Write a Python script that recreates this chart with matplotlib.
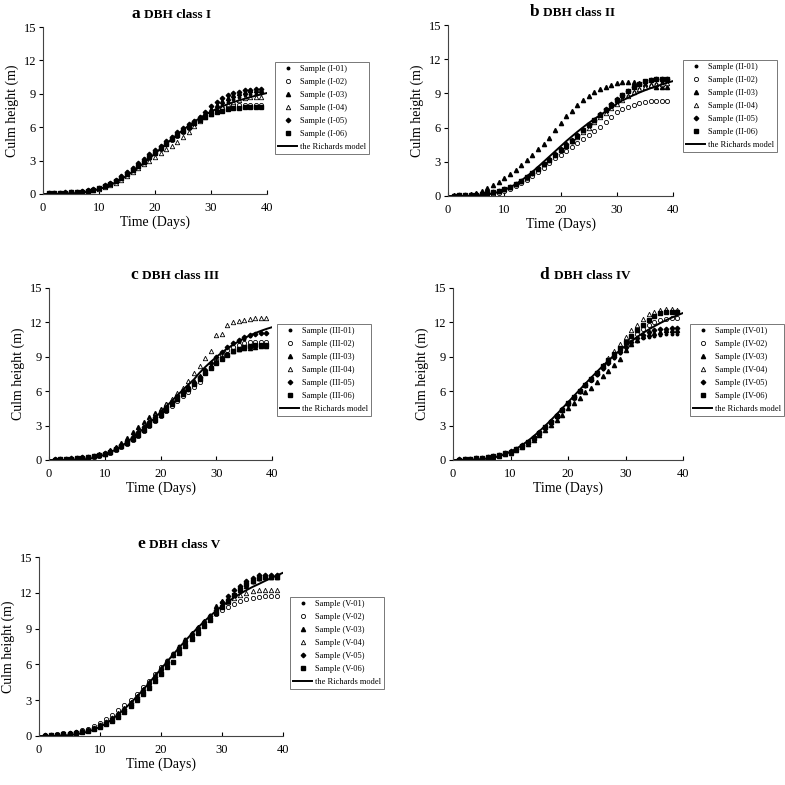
import numpy as np
import matplotlib
matplotlib.use('Agg')
import matplotlib.pyplot as plt
from matplotlib.offsetbox import TextArea, HPacker, AnchoredOffsetbox

plt.rcParams['font.family'] = ['Liberation Serif', 'DejaVu Serif']

# days of measurement and days for the fitted curve
days = list(range(1, 40))
model_days = list(range(0, 41))

# ---- panel a : DBH class I ----
a_s1 = [0.05,0.07,0.1,0.12,0.15,0.18,0.22,0.28,0.38,0.52,0.7,0.92,1.18,1.5,1.85,2.2,2.6,3.0,3.4,3.8,4.2,4.6,5.0,5.4,5.75,6.1,6.45,6.8,7.1,
        7.4,7.7,8.0,8.3,8.5,8.7,8.85,8.95,9.0,9.05]
a_s2 = [0.04,0.06,0.08,0.1,0.13,0.16,0.2,0.26,0.35,0.48,0.65,0.86,1.1,1.4,1.72,2.08,2.45,2.85,3.25,3.65,4.05,4.45,4.85,5.25,5.6,5.95,6.3,6.65,6.95,
        7.25,7.5,7.7,7.85,7.95,8.0,8.0,8.0,8.0,8.0]
a_s3 = [0.05,0.08,0.1,0.13,0.16,0.2,0.25,0.32,0.42,0.55,0.75,0.98,1.25,1.58,1.95,2.3,2.7,3.1,3.5,3.9,4.3,4.7,5.1,5.5,5.85,6.2,6.55,6.9,7.25,
        7.6,8.0,8.35,8.65,8.9,9.1,9.2,9.3,9.3,9.3]
a_s4 = [0.03,0.05,0.07,0.09,0.12,0.15,0.18,0.24,0.32,0.44,0.6,0.8,1.02,1.3,1.6,1.95,2.3,2.65,3.0,3.35,3.65,4.0,4.35,4.7,5.1,5.6,6.1,6.55,6.9,
        7.2,7.5,7.8,8.05,8.25,8.45,8.6,8.7,8.7,8.75]
a_s5 = [0.06,0.08,0.11,0.14,0.17,0.21,0.26,0.33,0.44,0.58,0.78,1.0,1.28,1.6,1.98,2.35,2.75,3.15,3.55,3.95,4.35,4.75,5.15,5.55,5.9,6.25,6.6,6.95,7.35,
        7.9,8.3,8.6,8.85,9.05,9.2,9.3,9.35,9.4,9.4]
a_s6 = [0.05,0.07,0.09,0.12,0.15,0.18,0.22,0.28,0.38,0.5,0.68,0.9,1.15,1.45,1.78,2.12,2.5,2.9,3.3,3.7,4.1,4.5,4.9,5.3,5.65,6.0,6.35,6.65,6.95,
        7.2,7.4,7.5,7.6,7.7,7.75,7.8,7.8,7.8,7.8]
a_model = [0.0,0.0,0.0,0.01,0.02,0.04,0.08,0.13,0.2,0.3,0.43,0.6,0.8,1.05,1.33,1.65,2.0,2.38,2.78,3.2,3.63,4.07,4.5,4.93,5.35,5.75,6.13,6.49,6.82,7.12,
           7.4,7.65,7.87,8.07,8.25,8.41,8.55,8.7,8.83,8.95,9.07]

# ---- panel b : DBH class II ----
b_s1 = [0.03,0.05,0.07,0.09,0.12,0.15,0.2,0.28,0.4,0.55,0.75,1.0,1.28,1.6,1.95,2.35,2.75,3.15,3.55,3.95,4.35,4.75,5.15,5.6,6.05,6.5,6.95,7.35,7.75,
        8.15,8.5,8.8,9.1,9.35,9.55,9.7,9.8,9.9,10.0]
b_s2 = [0.02,0.04,0.06,0.08,0.1,0.12,0.15,0.2,0.3,0.45,0.65,0.85,1.1,1.4,1.75,2.1,2.5,2.9,3.3,3.6,3.95,4.3,4.65,5.0,5.35,5.7,6.05,6.5,6.95,
        7.35,7.6,7.8,8.0,8.15,8.25,8.3,8.35,8.35,8.35]
b_s3 = [0.05,0.07,0.1,0.15,0.25,0.45,0.7,0.95,1.25,1.55,1.9,2.3,2.7,3.15,3.6,4.1,4.6,5.1,5.8,6.4,7.0,7.5,8.0,8.4,8.8,9.1,9.4,9.6,9.75,
        9.9,10.0,10.0,10.0,9.9,9.8,9.7,9.6,9.6,9.55]
b_s4 = [0.03,0.05,0.07,0.09,0.12,0.16,0.22,0.3,0.42,0.58,0.78,1.02,1.3,1.62,1.98,2.38,2.8,3.2,3.6,4.0,4.4,4.8,5.2,5.6,6.0,6.45,6.9,7.3,7.7,
        8.1,8.45,8.8,9.1,9.35,9.55,9.7,9.8,9.85,9.9]
b_s5 = [0.04,0.06,0.08,0.1,0.14,0.18,0.25,0.34,0.46,0.62,0.82,1.06,1.34,1.66,2.02,2.42,2.84,3.26,3.68,4.1,4.52,4.94,5.36,5.8,6.25,6.7,7.15,7.6,8.05,
        8.5,8.9,9.25,9.55,9.8,10.0,10.15,10.25,10.3,10.3]
b_s6 = [0.03,0.05,0.07,0.1,0.13,0.17,0.23,0.32,0.44,0.6,0.8,1.04,1.32,1.64,2.0,2.4,2.8,3.2,3.6,4.0,4.4,4.85,5.3,5.75,6.2,6.65,7.1,7.55,8.0,
        8.45,8.85,9.2,9.55,9.85,10.1,10.2,10.3,10.3,10.3]
b_model = [0.0,0.0,0.0,0.0,0.01,0.03,0.07,0.13,0.22,0.35,0.52,0.75,1.02,1.35,1.72,2.12,2.55,3.0,3.45,3.9,4.35,4.8,5.22,5.63,6.02,6.4,6.75,7.08,7.4,7.7,
           8.1,8.38,8.62,8.85,9.07,9.27,9.45,9.62,9.78,9.94,10.08]

# ---- panel c : DBH class III ----
c_s1 = [0.05,0.07,0.1,0.13,0.16,0.2,0.25,0.32,0.42,0.55,0.72,0.95,1.22,1.55,1.92,2.32,2.75,3.2,3.65,4.1,4.55,5.0,5.45,5.9,6.35,6.8,7.25,7.7,8.15,
        8.6,9.05,9.5,9.9,10.25,10.55,10.8,10.95,11.05,11.1]
c_s2 = [0.04,0.06,0.08,0.11,0.14,0.17,0.21,0.27,0.36,0.48,0.64,0.85,1.1,1.4,1.75,2.12,2.52,2.95,3.4,3.85,4.3,4.72,5.15,5.55,5.95,6.35,6.8,7.55,8.1,
        8.7,9.2,9.55,9.85,10.05,10.2,10.3,10.3,10.3,10.3]
c_s3 = [0.05,0.07,0.1,0.13,0.17,0.22,0.28,0.36,0.48,0.63,0.85,1.12,1.45,1.95,2.45,2.9,3.35,3.75,4.1,4.45,4.85,5.25,5.65,6.05,6.45,6.85,7.3,7.75,8.2,
        8.6,8.95,9.25,9.5,9.65,9.75,9.8,9.85,9.9,9.9]
c_s4 = [0.04,0.06,0.09,0.12,0.15,0.19,0.24,0.31,0.41,0.54,0.72,0.95,1.22,1.6,2.05,2.55,3.05,3.5,3.95,4.4,4.85,5.3,5.8,6.3,6.9,7.6,8.2,8.9,9.5,
        10.9,11.0,11.75,12.0,12.15,12.25,12.3,12.35,12.35,12.35]
c_s5 = [0.05,0.08,0.11,0.14,0.18,0.22,0.28,0.36,0.47,0.6,0.78,1.02,1.3,1.65,2.02,2.42,2.85,3.3,3.75,4.2,4.65,5.1,5.55,6.0,6.2,6.7,7.25,7.85,8.45,
        9.0,9.45,9.85,10.2,10.5,10.75,10.9,11.0,11.05,11.1]
c_s6 = [0.04,0.06,0.09,0.12,0.15,0.19,0.24,0.31,0.41,0.54,0.7,0.92,1.18,1.5,1.85,2.22,2.62,3.05,3.5,3.95,4.4,4.85,5.3,5.75,6.2,6.65,7.1,7.55,8.0,
        8.45,8.85,9.2,9.5,9.7,9.85,9.95,10.0,10.0,10.0]
c_model = [0.0,0.0,0.0,0.0,0.0,0.02,0.05,0.1,0.18,0.3,0.47,0.68,0.93,1.22,1.56,1.93,2.33,2.76,3.21,3.68,4.16,4.65,5.14,5.63,6.11,6.58,7.03,7.6,8.1,8.55,
           8.98,9.37,9.73,10.05,10.35,10.62,10.86,11.07,11.26,11.43,11.58]

# ---- panel d : DBH class IV ----
d_s1 = [0.05,0.08,0.12,0.16,0.21,0.27,0.35,0.45,0.58,0.75,0.97,1.25,1.58,1.97,2.4,2.87,3.37,3.88,4.4,4.93,5.45,5.95,6.45,6.95,7.45,7.95,8.45,8.9,9.35,
        9.75,10.1,10.4,10.6,10.75,10.85,10.9,10.95,11.0,11.0]
d_s2 = [0.04,0.07,0.11,0.15,0.2,0.26,0.34,0.44,0.57,0.74,0.96,1.23,1.55,1.93,2.35,2.82,3.32,3.84,4.37,4.91,5.45,5.98,6.5,7.02,7.55,8.08,8.6,9.1,9.6,
        10.1,10.55,11.0,11.4,11.75,12.0,12.2,12.3,12.35,12.4]
d_s3 = [0.03,0.06,0.09,0.13,0.17,0.22,0.29,0.38,0.5,0.65,0.85,1.1,1.4,1.75,2.15,2.6,3.05,3.45,3.95,4.5,5.0,5.45,5.9,6.3,6.8,7.3,7.8,8.3,8.8,
        9.6,10.1,10.5,10.8,11.0,11.1,11.2,11.3,11.3,11.3]
d_s4 = [0.04,0.07,0.11,0.15,0.2,0.26,0.34,0.44,0.57,0.74,0.96,1.23,1.56,1.95,2.38,2.85,3.35,3.87,4.4,4.95,5.5,6.05,6.6,7.15,7.7,8.3,8.9,9.5,10.1,
        10.7,11.3,11.8,12.3,12.7,12.95,13.1,13.15,13.15,13.1]
d_s5 = [0.05,0.08,0.12,0.16,0.21,0.27,0.35,0.46,0.6,0.77,0.99,1.27,1.6,1.99,2.42,2.9,3.4,3.92,4.45,4.98,5.5,6.02,6.52,7.02,7.52,8.02,8.5,8.97,9.42,
        9.85,10.25,10.6,10.9,11.15,11.3,11.4,11.45,11.5,11.5]
d_s6 = [0.04,0.07,0.11,0.15,0.2,0.26,0.34,0.44,0.57,0.74,0.96,1.23,1.55,1.94,2.37,2.84,3.34,3.86,4.39,4.93,5.47,6.01,6.55,7.09,7.63,8.17,8.7,9.22,9.73,
        10.25,10.8,11.3,11.8,12.2,12.6,12.85,12.95,12.95,12.95]
d_model = [0.0,0.0,0.01,0.02,0.04,0.07,0.12,0.2,0.32,0.5,0.72,0.98,1.3,1.66,2.06,2.5,2.97,3.46,3.97,4.5,5.03,5.57,6.11,6.64,7.17,7.68,8.18,8.66,9.12,9.56,
           9.97,10.36,10.72,11.06,11.37,11.66,11.93,12.18,12.41,12.62,12.82]

# ---- panel e : DBH class V ----
e_s1 = [0.05,0.08,0.13,0.18,0.24,0.32,0.42,0.55,0.72,0.94,1.22,1.55,1.95,2.4,2.9,3.45,4.0,4.55,5.15,5.75,6.35,6.95,7.55,8.1,8.65,9.15,9.65,10.1,10.55,
        11.0,11.45,11.85,12.25,12.6,12.9,13.15,13.3,13.4,13.45]
e_s2 = [0.06,0.1,0.15,0.21,0.28,0.37,0.48,0.62,0.8,1.05,1.4,1.8,2.2,2.6,3.0,3.55,4.1,4.65,5.2,5.75,6.3,6.85,7.4,7.95,8.5,9.0,9.45,9.85,10.2,
        10.55,10.85,11.1,11.3,11.45,11.55,11.65,11.7,11.7,11.7]
e_s3 = [0.04,0.07,0.11,0.16,0.22,0.3,0.4,0.52,0.68,0.88,1.14,1.46,1.84,2.28,2.76,3.28,3.82,4.38,4.96,5.56,6.16,6.76,7.36,7.94,8.5,9.04,9.56,10.06,10.9,
        11.35,11.6,11.85,12.2,12.6,12.95,13.2,13.3,13.35,13.35]
e_s4 = [0.05,0.08,0.12,0.17,0.23,0.31,0.41,0.54,0.7,0.92,1.2,1.53,1.92,2.36,2.85,3.38,3.93,4.5,5.08,5.68,6.28,6.88,7.48,8.05,8.6,9.12,9.6,10.05,10.5,
        10.9,11.25,11.55,11.8,12.0,12.15,12.2,12.2,12.2,12.2]
e_s5 = [0.05,0.08,0.12,0.17,0.23,0.31,0.41,0.54,0.7,0.9,1.16,1.48,1.86,2.3,2.78,3.3,3.84,4.4,4.98,5.58,6.18,6.78,7.38,7.96,8.52,9.06,9.58,10.08,10.6,
        11.2,11.75,12.2,12.6,12.95,13.25,13.45,13.5,13.5,13.5]
e_s6 = [0.04,0.07,0.1,0.14,0.19,0.26,0.35,0.46,0.6,0.78,1.0,1.28,1.62,2.02,2.48,2.98,3.5,4.05,4.62,5.2,5.78,6.2,6.95,7.55,8.1,8.6,9.2,9.75,10.3,
        10.85,11.35,11.85,12.3,12.7,13.0,13.2,13.3,13.3,13.3]
e_model = [0.0,0.0,0.01,0.02,0.04,0.08,0.14,0.23,0.36,0.54,0.77,1.06,1.41,1.81,2.26,2.75,3.28,3.84,4.42,5.02,5.62,6.23,6.83,7.42,7.99,8.54,9.06,9.56,10.03,10.47,
           10.88,11.26,11.61,11.93,12.22,12.49,12.73,12.98,13.22,13.45,13.68]

panel_letters = ['a', 'b', 'c', 'd', 'e']
class_names = ['DBH class I', 'DBH class II', 'DBH class III', 'DBH class IV', 'DBH class V']
roman = ['I', 'II', 'III', 'IV', 'V']

panels = [
    ([a_s1, a_s2, a_s3, a_s4, a_s5, a_s6], a_model),
    ([b_s1, b_s2, b_s3, b_s4, b_s5, b_s6], b_model),
    ([c_s1, c_s2, c_s3, c_s4, c_s5, c_s6], c_model),
    ([d_s1, d_s2, d_s3, d_s4, d_s5, d_s6], d_model),
    ([e_s1, e_s2, e_s3, e_s4, e_s5, e_s6], e_model),
]

# marker styles for samples 01..06
styles = [
    dict(marker='o', ms=1.8, mfc='k', mec='k'),
    dict(marker='o', ms=3.0, mfc='white', mec='k', mew=0.6),
    dict(marker='^', ms=3.0, mfc='k', mec='k'),
    dict(marker='^', ms=3.2, mfc='white', mec='k', mew=0.6),
    dict(marker='D', ms=2.3, mfc='k', mec='k'),
    dict(marker='s', ms=2.3, mfc='k', mec='k'),
]

W = 785.0
# axes boxes in pixels: left, right, top, bottom
ax_px = [(43, 267, 27, 194), (448, 673, 25, 196), (49, 272, 288, 460),
         (453, 683, 288, 460), (39, 283, 557, 736)]
# legend upper-left corners in pixels
leg_px = [(275, 62), (683, 60), (277, 324), (690, 324), (290, 597)]
# title centre offset to the right of axes centre, pixels
title_shift = [16, 12, 14, 17, 18]

fig = plt.figure(figsize=(7.85, 7.85), dpi=100)

for i, (samples, model) in enumerate(panels):
    l, r, t, b = ax_px[i]
    ax = fig.add_axes([l / W, 1 - b / W, (r - l) / W, (b - t) / W])
    for j, ys in enumerate(samples):
        ax.plot(days, ys, linestyle='none',
                label='Sample (%s-0%d)' % (roman[i], j + 1), **styles[j])
    ax.plot(model_days, model, color='k', lw=1.4, label='the Richards model')

    ax.set_xlim(0, 40)
    ax.set_ylim(0, 15)
    ax.set_xticks([0, 10, 20, 30, 40])
    ax.set_yticks([0, 3, 6, 9, 12, 15])
    ax.spines['top'].set_visible(False)
    ax.spines['right'].set_visible(False)
    for s in ['left', 'bottom']:
        ax.spines[s].set_color('#444444')
        ax.spines[s].set_linewidth(0.8)
    ax.tick_params(axis='x', direction='in', length=3, width=0.8, labelsize=9, pad=6)
    ax.tick_params(axis='y', direction='out', length=3, width=0.8, labelsize=9, pad=2)
    ax.set_xlabel('Time (Days)', fontsize=10, labelpad=1)
    ax.set_ylabel('Culm height (m)', fontsize=10, labelpad=3)

    # title: large bold letter + smaller bold text
    t1 = TextArea(panel_letters[i], textprops=dict(fontsize=12.5, fontweight='bold'))
    t2 = TextArea(class_names[i], textprops=dict(fontsize=9.5, fontweight='bold'))
    box = HPacker(children=[t1, t2], align='baseline', pad=0, sep=3)
    anc = AnchoredOffsetbox(loc='lower center', child=box, pad=0, borderpad=0,
                            frameon=False,
                            bbox_to_anchor=(0.5 + title_shift[i] / (r - l), 1.03),
                            bbox_transform=ax.transAxes)
    ax.add_artist(anc)

    lx, ly = leg_px[i]
    leg = ax.legend(loc='upper left', bbox_to_anchor=(lx / W, 1 - ly / W),
                    bbox_transform=fig.transFigure, fontsize=6.0,
                    frameon=True, fancybox=False, edgecolor='#555555',
                    borderpad=0.35, labelspacing=0.6, handlelength=2.3,
                    handletextpad=0.3, borderaxespad=0)
    leg.get_frame().set_linewidth(0.7)

fig.savefig('out.png', dpi=100)
